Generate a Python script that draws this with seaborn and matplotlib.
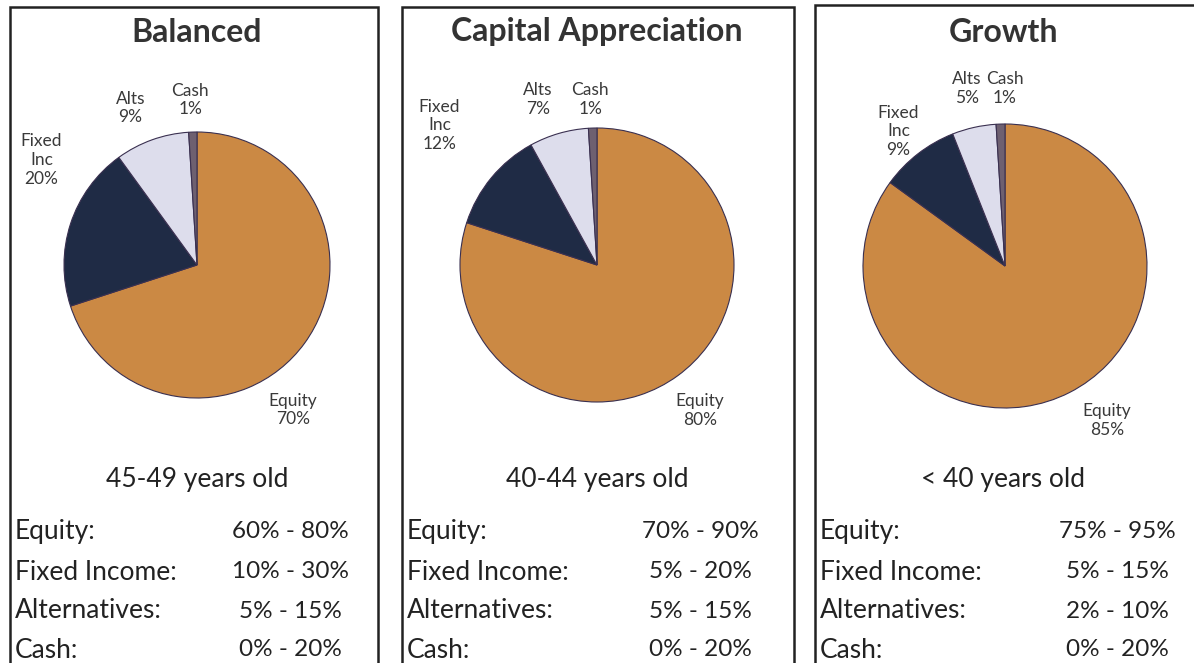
import matplotlib
matplotlib.use('Agg')
import matplotlib.pyplot as plt
import seaborn as sns
from matplotlib.patches import Rectangle

sns.set_theme(style="white")
plt.rcParams['font.family'] = ['Lato', 'DejaVu Sans']

# data
panel_titles = ["Balanced", "Capital Appreciation", "Growth"]
segments = ["Equity", "Fixed\nInc", "Alts", "Cash"]
balanced = [70, 20, 9, 1]
capital_appreciation = [80, 12, 7, 1]
growth = [85, 9, 5, 1]
ages = ["45-49 years old", "40-44 years old", "< 40 years old"]
row_names = ["Equity:", "Fixed Income:", "Alternatives:", "Cash:"]
balanced_ranges = ["60% - 80%", "10% - 30%", "5% - 15%", "0% - 20%"]
capital_ranges = ["70% - 90%", "5% - 20%", "5% - 15%", "0% - 20%"]
growth_ranges = ["75% - 95%", "5% - 15%", "2% - 10%", "0% - 20%"]

shares = [balanced, capital_appreciation, growth]
ranges = [balanced_ranges, capital_ranges, growth_ranges]

colors = ["#CB8944", "#1F2B45", "#DDDDEC", "#6E6070"]

# layout (pixels)
W, H = 1194, 663
boxes = [(10, 7, 378), (402, 7, 794), (815, 5, 1210)]
pie_geo = [(197, 265, 133), (597, 265, 137), (1005, 266, 142)]
title_x = [197, 597, 1003]
value_x = [290, 700, 1117]
label_pos = [
    [(0.72, -1.09), (-1.17, 0.79), (-0.50, 1.18), (-0.05, 1.24)],
    [(0.75, -1.06), (-1.15, 1.02), (-0.43, 1.21), (-0.05, 1.21)],
    [(0.72, -1.09), (-0.75, 0.95), (-0.27, 1.25), (0.0, 1.25)],
]
row_y = [532, 572, 611, 650]


def fx(x):
    return x / W


def fy(y):
    return 1 - y / H


fig = plt.figure(figsize=(11.94, 6.63), dpi=100)
fig.patch.set_facecolor("white")

for i in range(3):
    x0, y0, x1 = boxes[i]
    fig.patches.append(Rectangle((fx(x0), fy(700)), fx(x1 - x0), fy(y0) - fy(700),
                                 transform=fig.transFigure, fill=False,
                                 edgecolor="#222222", linewidth=1.8))
    fig.text(fx(title_x[i]), fy(32), panel_titles[i], ha="center", va="center",
             fontsize=23, fontweight="bold", color="#333333")

    cx, cy, r = pie_geo[i]
    ax = fig.add_axes([fx(cx - r), fy(cy + r), fx(2 * r), 2 * r / H])
    ax.pie(shares[i], colors=colors, startangle=90, counterclock=False,
           wedgeprops=dict(edgecolor="#3a3050", linewidth=0.8))
    ax.set_xlim(-1, 1)
    ax.set_ylim(-1, 1)
    ax.set_aspect("equal")
    ax.axis("off")
    for j, seg in enumerate(segments):
        lx, ly = label_pos[i][j]
        ax.text(lx, ly, f"{seg}\n{shares[i][j]}%", ha="center", va="center",
                fontsize=12.5, color="#3a3a3a", linespacing=1.2, clip_on=False)

    fig.text(fx(title_x[i]), fy(480), ages[i], ha="center", va="center",
             fontsize=19, color="#222222")
    for k in range(4):
        fig.text(fx(x0 + 5), fy(row_y[k]), row_names[k], ha="left", va="center",
                 fontsize=19, color="#222222")
        fig.text(fx(value_x[i]), fy(row_y[k]), ranges[i][k], ha="center", va="center",
                 fontsize=17.5, color="#222222")

plt.savefig("out.png", dpi=100)
plt.close()
